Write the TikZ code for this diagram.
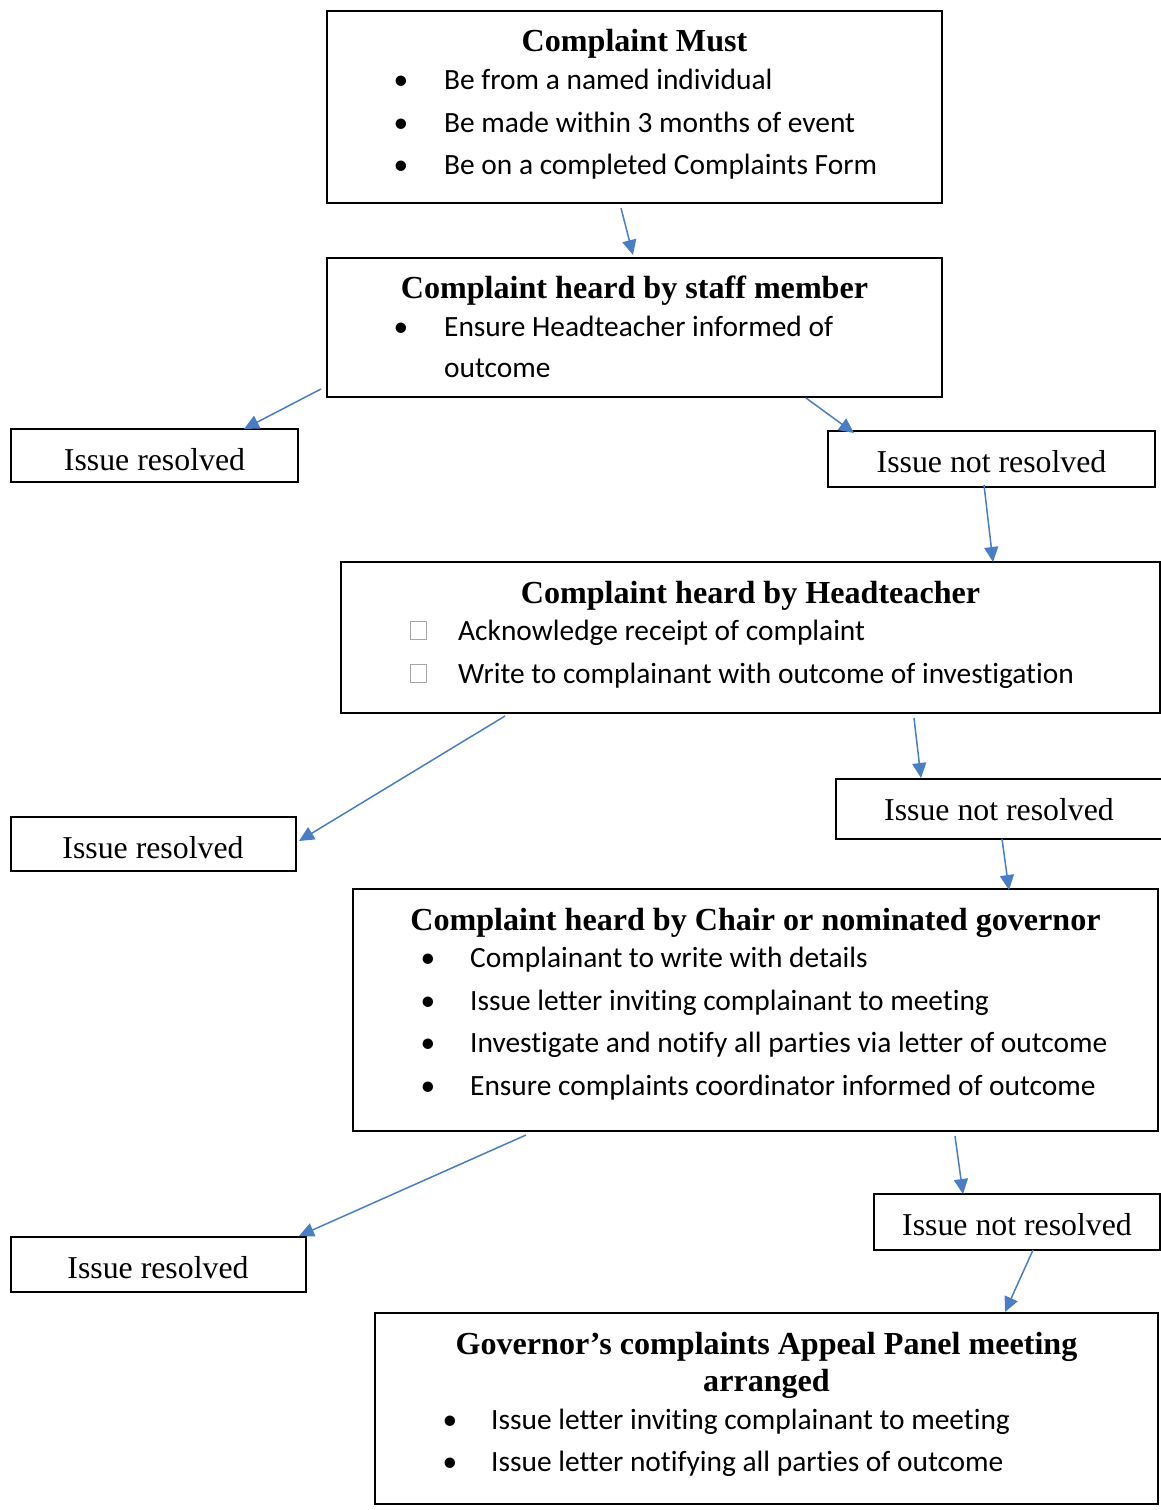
\documentclass[tikz,border=0pt]{standalone}
\usepackage{fontspec}
\setmainfont{Liberation Serif}
\newfontfamily\calib[Ligatures={NoCommon}]{Carlito}
\usetikzlibrary{arrows.meta}
\definecolor{arrblue}{HTML}{4A7EC4}
\tikzset{
  boxshape/.style={draw=black, line width=1.8pt, fill=none},
  ttl/.style={font=\fontsize{32.1}{38}\selectfont\bfseries, anchor=base, inner sep=0pt},
  btxt/.style={font=\calib\fontsize{29.4}{35}\selectfont, anchor=base west, inner sep=0pt},
  bdot/.style={font=\calib\fontsize{29.4}{35}\selectfont, anchor=base, inner sep=0pt},
  itxt/.style={font=\fontsize{31.8}{38}\selectfont, anchor=base, inner sep=0pt},
  cbox/.style={draw=gray!70, line width=0.6pt, minimum width=16pt, minimum height=18pt, inner sep=0pt, anchor=north west},
  conn/.style={draw=arrblue, line width=1.5pt, -{Triangle[length=15pt,width=14pt]}}
}
\begin{document}
\begin{tikzpicture}[x=1pt,y=-1pt]
\useasboundingbox (0,0) rectangle (1161,1510);
\clip (0,0) rectangle (1161,1510);
\fill[white] (0,0) rectangle (1161,1510);
% boxes
\draw[boxshape] (327,11) rectangle (942,203);
\draw[boxshape] (327,258) rectangle (942,397);
\draw[boxshape] (11,429) rectangle (298,482);
\draw[boxshape] (828,431) rectangle (1155,487);
\draw[boxshape] (341,562) rectangle (1160,713);
\draw[boxshape] (836,779) rectangle (1175,839);
\draw[boxshape] (11,817) rectangle (296,871);
\draw[boxshape] (353,889) rectangle (1158,1131);
\draw[boxshape] (874,1194) rectangle (1160,1250);
\draw[boxshape] (11,1237) rectangle (306,1292);
\draw[boxshape] (375,1313) rectangle (1158,1504);
% box 1
\node[ttl] (t1) at (634.5,51) {Complaint Must};
\node[bdot] (d11) at (401,89) {•};
\node[btxt] (l11) at (444,89) {Be from a named individual};
\node[bdot] (d12) at (401,132) {•};
\node[btxt] (l12) at (444,132) {Be made within 3 months of event};
\node[bdot] (d13) at (401,174) {•};
\node[btxt] (l13) at (444,174) {Be on a completed Complaints Form};
% box 2
\node[ttl] (t2) at (634.5,298) {Complaint heard by staff member};
\node[bdot] (d21) at (401,336) {•};
\node[btxt] (l21) at (444,336) {Ensure Headteacher informed of};
\node[btxt] (l22) at (444,377) {outcome};
% issue boxes
\node[itxt] (ir1) at (154.5,470) {Issue resolved};
\node[itxt] (inr1) at (991.5,472) {Issue not resolved};
% box 3
\node[ttl] (t3) at (750.5,603) {Complaint heard by Headteacher};
\node[cbox] (c31) at (410,621) {};
\node[btxt] (l31) at (458,640) {Acknowledge receipt of complaint};
\node[cbox] (c32) at (410,664) {};
\node[btxt] (l32) at (458,683) {Write to complainant with outcome of investigation};
\node[itxt] (inr2) at (999,820) {Issue not resolved};
\node[itxt] (ir2) at (153,858) {Issue resolved};
% box 4
\node[ttl] (t4) at (755.5,930) {Complaint heard by Chair or nominated governor};
\node[bdot] (d41) at (428,967) {•};
\node[btxt] (l41) at (470,967) {Complainant to write with details};
\node[bdot] (d42) at (428,1010) {•};
\node[btxt] (l42) at (470,1010) {Issue letter inviting complainant to meeting};
\node[bdot] (d43) at (428,1052) {•};
\node[btxt] (l43) at (470,1052) {Investigate and notify all parties via letter of outcome};
\node[bdot] (d44) at (428,1095) {•};
\node[btxt] (l44) at (470,1095) {Ensure complaints coordinator informed of outcome};
\node[itxt] (inr3) at (1017,1235) {Issue not resolved};
\node[itxt] (ir3) at (158,1278) {Issue resolved};
% box 5
\node[ttl] (t5a) at (766.5,1354) {Governor’s complaints Appeal Panel meeting};
\node[ttl] (t5b) at (766.5,1391) {arranged};
\node[bdot] (d51) at (450,1429) {•};
\node[btxt] (l51) at (491,1429) {Issue letter inviting complainant to meeting};
\node[bdot] (d52) at (450,1471) {•};
\node[btxt] (l52) at (491,1471) {Issue letter notifying all parties of outcome};
% connector endpoints
\coordinate (a1s) at (621,208);  \coordinate (a1e) at (633,255);
\coordinate (a2s) at (321,389);  \coordinate (a2e) at (244,429);
\coordinate (a3s) at (806,398);  \coordinate (a3e) at (854,433);
\coordinate (a4s) at (984,485);  \coordinate (a4e) at (993,562);
\coordinate (a5s) at (505,716);  \coordinate (a5e) at (299,841);
\coordinate (a6s) at (914,718);  \coordinate (a6e) at (921,778);
\coordinate (a7s) at (1002,839); \coordinate (a7e) at (1009,890);
\coordinate (a8s) at (526,1135); \coordinate (a8e) at (299,1236);
\coordinate (a9s) at (955,1136); \coordinate (a9e) at (963,1194);
\coordinate (a10s) at (1033,1250); \coordinate (a10e) at (1005,1312);
\foreach \i in {1,...,10} {\draw[conn] (a\i s) -- (a\i e);}
\end{tikzpicture}
\end{document}
